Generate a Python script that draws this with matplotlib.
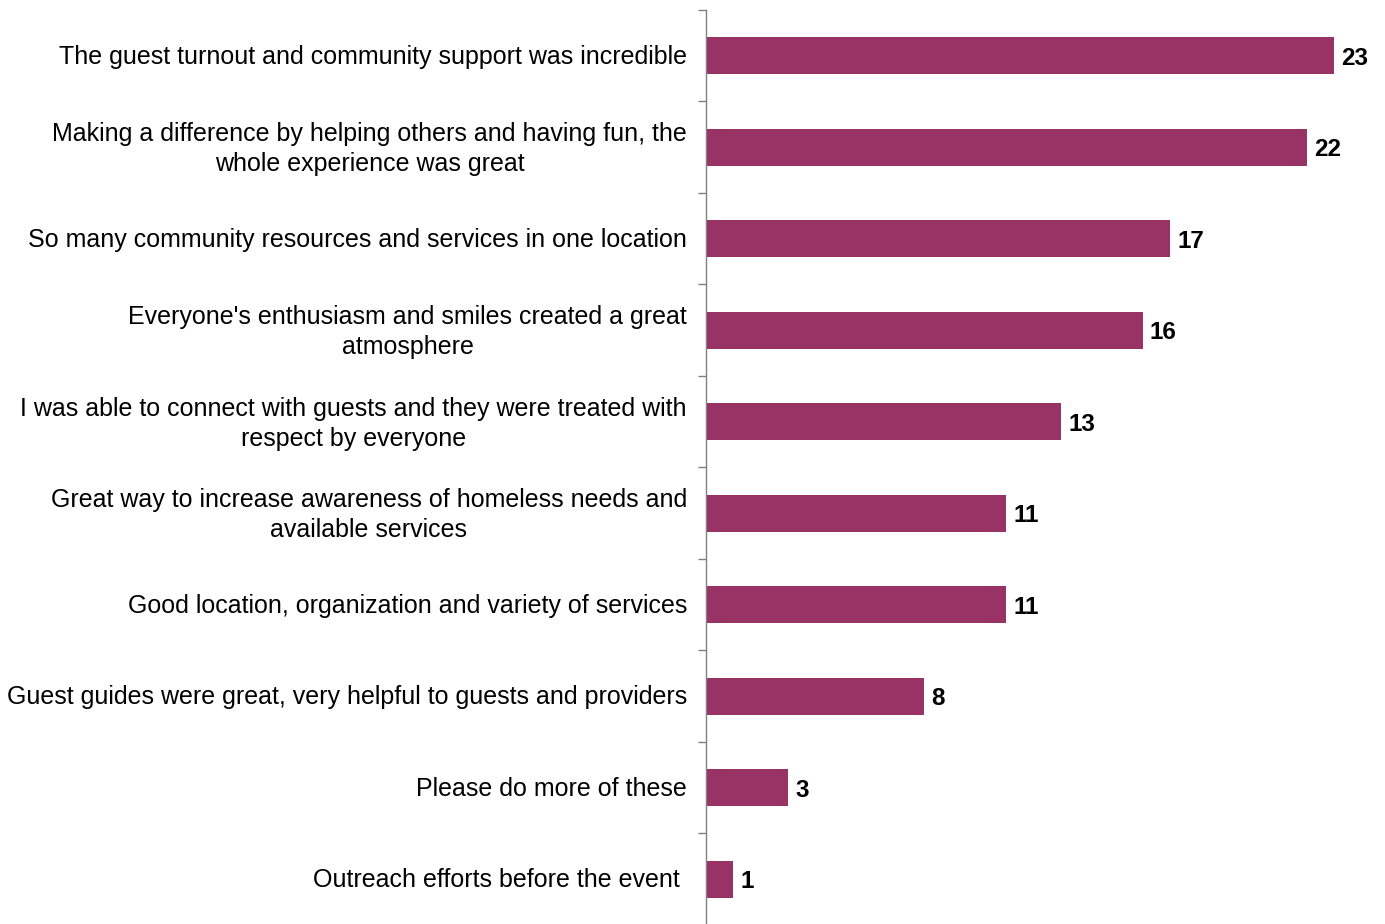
import matplotlib.pyplot as plt
import matplotlib.transforms as mtransforms
import numpy as np

plt.rcParams['font.family'] = ['Liberation Sans', 'DejaVu Sans']

labels = [
    "The guest turnout and community support was incredible",
    "Making a difference by helping others and having fun, the\nwhole experience was great",
    "So many community resources and services in one location",
    "Everyone's enthusiasm and smiles created a great\natmosphere",
    "I was able to connect with guests and they were treated with\nrespect by everyone",
    "Great way to increase awareness of homeless needs and\navailable services",
    "Good location, organization and variety of services",
    "Guest guides were great, very helpful to guests and providers",
    "Please do more of these",
    "Outreach efforts before the event ",
]
counts = [23, 22, 17, 16, 13, 11, 11, 8, 3, 1]

bar_color = "#993366"
axis_color = "#808080"

fig = plt.figure(figsize=(13.85, 9.24), dpi=100)
ax = fig.add_axes([706 / 1385, -1 / 924, 1 - 706 / 1385, 915 / 924])

y = np.arange(len(counts))
ax.barh(y, counts, height=0.4, color=bar_color)
ax.set_ylim(len(counts) - 0.5, -0.5)
ax.set_xlim(0, 24.87)

for yi, c in zip(y, counts):
    ax.text(c + 0.26, yi, str(c), va="center_baseline", ha="left",
            fontsize=17.5, fontweight="bold", color="black")

# category labels, right-aligned against the axis line
for yi, lab in zip(y, labels):
    dy = -2 if "\n" in lab else -1
    tr = ax.get_yaxis_transform() + mtransforms.ScaledTranslation(
        -19 / 100, dy / 100, fig.dpi_scale_trans)
    ax.text(0, yi, lab, transform=tr, ha="right", va="center",
            multialignment="center", fontsize=18, linespacing=1.33,
            clip_on=False)

# boundary ticks between categories
ax.set_yticks(np.arange(-0.5, len(counts) + 0.5, 1))
ax.set_yticklabels([])
ax.tick_params(axis="y", length=6, width=1, color=axis_color, direction="out")

ax.xaxis.set_visible(False)
for side in ["top", "right", "bottom"]:
    ax.spines[side].set_visible(False)
ax.spines["left"].set_color(axis_color)
ax.spines["left"].set_linewidth(1)

fig.savefig("out.png", dpi=100)
